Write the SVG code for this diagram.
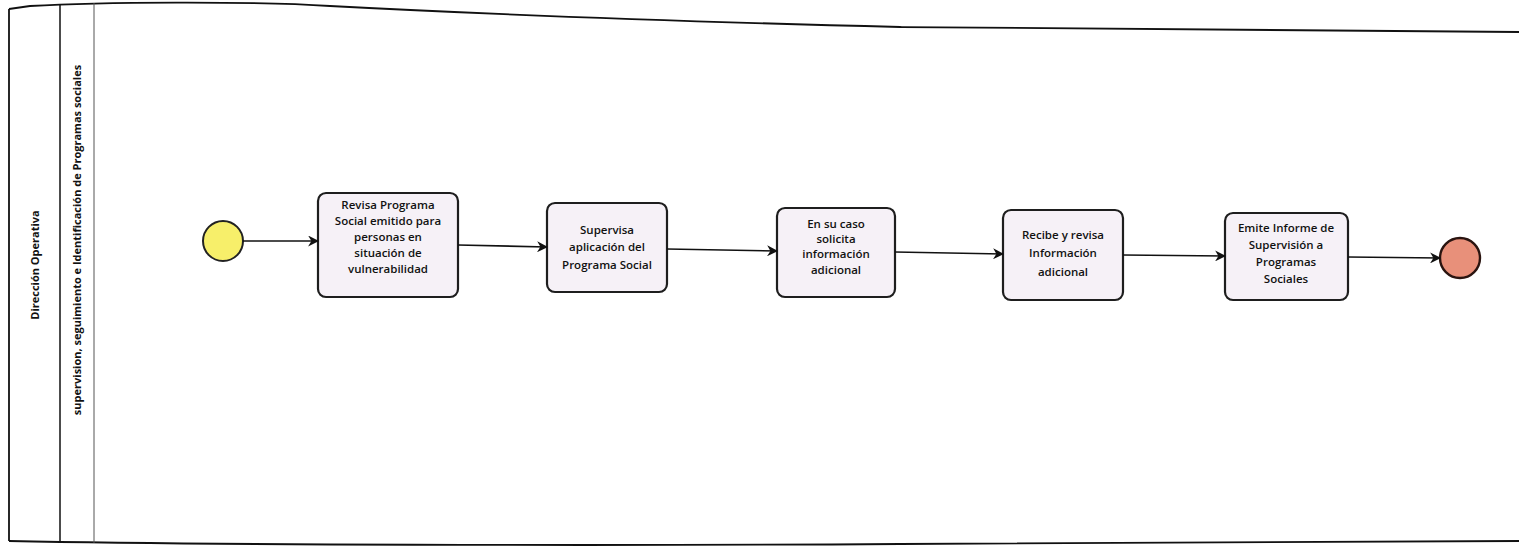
<svg xmlns="http://www.w3.org/2000/svg" width="1519" height="547" viewBox="0 0 1519 547">
  <style>
    .box { fill: #f6f1f7; stroke: #1e1e1e; stroke-width: 2.2; }
    .t { font-family: "Open Sans", "DejaVu Sans", sans-serif; font-weight: 600; font-size: 11.5px; fill: #111; text-anchor: middle; }
    .lane { font-family: "Open Sans", "DejaVu Sans", sans-serif; font-weight: 700; font-size: 11px; fill: #111; text-anchor: middle; }
    .conn { stroke: #111; stroke-width: 1.6; fill: none; marker-end: url(#arr); }
    .border { stroke: #111; stroke-width: 1.8; fill: none; }
  </style>
  <defs>
    <marker id="arr" viewBox="0 0 10 10" refX="9" refY="5" markerWidth="11" markerHeight="11" markerUnits="userSpaceOnUse" orient="auto">
      <path d="M0,0 L10,5 L0,10 L3,5 Z" fill="#111"/>
    </marker>
  </defs>
  <rect width="1519" height="547" fill="#ffffff"/>

  <g id="pool">
    <path class="border" d="M9,9 L30,6 C100,2 250,1 330,6 C500,15 700,22 900,27 C1100,30 1300,29 1519,32"/>
    <path class="border" d="M9,9 L9,541"/>
    <path class="border" d="M9,541 C200,545 600,546 900,544 C1200,543 1400,541 1519,541"/>
    <path d="M60,5 L60,542" stroke="#111" stroke-width="1.5"/>
    <path d="M94,3 L94,543" stroke="#555" stroke-width="1"/>
    <text class="lane" transform="translate(39,265) rotate(-90)">Dirección Operativa</text>
    <text class="lane" transform="translate(81,240) rotate(-90)">supervision, seguimiento e Identificación de Programas sociales</text>
  </g>

  <g id="start">
    <circle cx="223" cy="241" r="20" fill="#f7ef6a" stroke="#222" stroke-width="2"/>
  </g>

  <g id="n1">
    <rect class="box" x="318" y="193" width="140" height="104" rx="8"/>
    <text class="t" x="388" y="209">Revisa Programa</text>
    <text class="t" x="388" y="225">Social emitido para</text>
    <text class="t" x="388" y="241">personas en</text>
    <text class="t" x="388" y="257">situación de</text>
    <text class="t" x="388" y="273">vulnerabilidad</text>
  </g>

  <g id="n2">
    <rect class="box" x="547" y="203" width="120" height="89" rx="8"/>
    <text class="t" x="607" y="234">Supervisa</text>
    <text class="t" x="607" y="251">aplicación del</text>
    <text class="t" x="607" y="269">Programa Social</text>
  </g>

  <g id="n3">
    <rect class="box" x="777" y="208" width="118" height="89" rx="8"/>
    <text class="t" x="836" y="228">En su caso</text>
    <text class="t" x="836" y="243">solicita</text>
    <text class="t" x="836" y="258">información</text>
    <text class="t" x="836" y="274">adicional</text>
  </g>

  <g id="n4">
    <rect class="box" x="1003" y="210" width="120" height="90" rx="8"/>
    <text class="t" x="1063" y="239">Recibe y revisa</text>
    <text class="t" x="1063" y="257">Información</text>
    <text class="t" x="1063" y="276">adicional</text>
  </g>

  <g id="n5">
    <rect class="box" x="1225" y="213" width="123" height="87" rx="8"/>
    <text class="t" x="1286" y="232">Emite Informe de</text>
    <text class="t" x="1286" y="249">Supervisión a</text>
    <text class="t" x="1286" y="266">Programas</text>
    <text class="t" x="1286" y="283">Sociales</text>
  </g>

  <g id="end">
    <circle cx="1460" cy="258" r="20" fill="#e8907a" stroke="#2a1410" stroke-width="2.4"/>
  </g>

  <g id="connectors">
    <path class="conn" d="M243,241 L318,241"/>
    <path class="conn" d="M458,245 L547,247"/>
    <path class="conn" d="M667,249 L777,251"/>
    <path class="conn" d="M895,252 L1003,254"/>
    <path class="conn" d="M1123,255 L1225,256"/>
    <path class="conn" d="M1348,257 L1440,258"/>
  </g>
</svg>
